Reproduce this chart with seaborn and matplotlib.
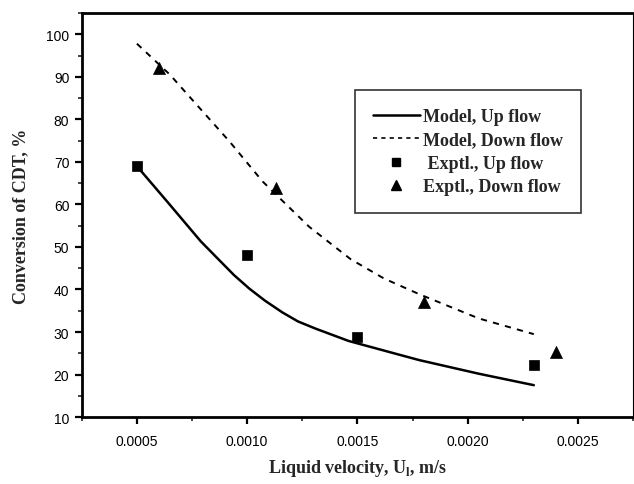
import matplotlib
matplotlib.use("Agg")
import matplotlib.pyplot as plt
from matplotlib.ticker import MultipleLocator, FormatStrFormatter
from matplotlib.lines import Line2D
import seaborn as sns
import pandas as pd

# Model predictions (conversion of CDT vs liquid velocity)
model_up_u = [0.0005, 0.00064, 0.00079, 0.00094, 0.00101, 0.00108, 0.00116,
              0.00123, 0.00131, 0.00146, 0.00168, 0.00178, 0.00205, 0.0023]
model_up_x = [69.0, 60.5, 51.3, 43.4, 40.2, 37.4, 34.6,
              32.5, 30.8, 27.9, 24.8, 23.4, 20.2, 17.5]
model_down_u = [0.0005, 0.00065, 0.00077, 0.00092, 0.00107, 0.00128, 0.00147,
                0.00162, 0.00178, 0.00205, 0.0023]
model_down_x = [97.8, 90.5, 83.5, 74.8, 65.4, 54.8, 47.1,
                42.6, 38.9, 33.2, 29.5]

# Experimental data
exp_up_u = [0.0005, 0.0010, 0.0015, 0.0023]
exp_up_x = [69.0, 48.2, 28.9, 22.2]
exp_down_u = [0.0006, 0.00113, 0.0018, 0.0024]
exp_down_x = [92.0, 63.8, 37.0, 25.2]

legend_labels = ["Model, Up flow", "Model, Down flow", " Exptl., Up flow", "Exptl., Down flow"]

sns.set_style("ticks")
plt.rcParams["font.family"] = ["Liberation Sans", "DejaVu Sans"]

fig = plt.figure(figsize=(6.34, 4.85), dpi=100)
ax = fig.add_axes([0.129, 0.138, 0.8695, 0.833])

up_df = pd.DataFrame({"u": model_up_u, "x": model_up_x})
down_df = pd.DataFrame({"u": model_down_u, "x": model_down_x})
eup_df = pd.DataFrame({"u": exp_up_u, "x": exp_up_x})
edown_df = pd.DataFrame({"u": exp_down_u, "x": exp_down_x})

sns.lineplot(data=up_df, x="u", y="x", ax=ax, color="black", lw=1.8,
             estimator=None, sort=True)
sns.lineplot(data=down_df, x="u", y="x", ax=ax, color="black", lw=1.4,
             linestyle=(0, (3.2, 3.2)), estimator=None, sort=True)
sns.scatterplot(data=eup_df, x="u", y="x", ax=ax, marker="s", s=60,
                color="black", edgecolor="black", linewidth=0.5, zorder=5)
sns.scatterplot(data=edown_df, x="u", y="x", ax=ax, marker="^", s=75,
                color="black", edgecolor="black", linewidth=0.5, zorder=5)

ax.set_xlim(0.00025, 0.00275)
ax.set_ylim(10, 105)
ax.xaxis.set_major_locator(MultipleLocator(0.0005))
ax.xaxis.set_minor_locator(MultipleLocator(0.00025))
ax.yaxis.set_major_locator(MultipleLocator(10))
ax.yaxis.set_minor_locator(MultipleLocator(5))
ax.xaxis.set_major_formatter(FormatStrFormatter("%.4f"))
ax.yaxis.set_major_formatter(FormatStrFormatter("%d"))

for side in ["left", "bottom", "top", "right"]:
    ax.spines[side].set_linewidth(2.0)
    ax.spines[side].set_color("black")
ax.spines["right"].set_linewidth(0.8)

ax.tick_params(which="major", direction="out", length=5, width=1.6,
               labelsize=10, pad=4, colors="black")
ax.tick_params(which="minor", direction="out", length=3, width=1.2)
ax.tick_params(top=False, right=False, which="both")
ax.tick_params(axis="x", pad=7)

serif_bold = {"family": ["Liberation Serif", "DejaVu Serif"], "weight": "bold", "size": 13}
ax.set_xlabel(r"Liquid velocity, U$_\mathregular{l}$, m/s", fontdict=serif_bold, labelpad=7)
ax.set_ylabel("Conversion of CDT, %", fontdict=serif_bold, labelpad=12)

handles = [
    Line2D([], [], color="black", lw=1.8),
    Line2D([], [], color="black", lw=1.2, linestyle=(0, (2.5, 2.5))),
    Line2D([], [], color="black", marker="s", linestyle="none", markersize=6),
    Line2D([], [], color="black", marker="^", linestyle="none", markersize=7.5),
]
leg = ax.legend(handles, legend_labels, loc="upper left", bbox_to_anchor=(0.495, 0.81),
                frameon=True, fancybox=False, edgecolor="black", handlelength=2.6,
                handletextpad=0.2, borderpad=1.0, labelspacing=0.36,
                borderaxespad=0,
                prop={"family": ["Liberation Serif", "DejaVu Serif"], "weight": "bold", "size": 13})
leg.get_frame().set_linewidth(1.2)

fig.savefig("out.png", dpi=100)
